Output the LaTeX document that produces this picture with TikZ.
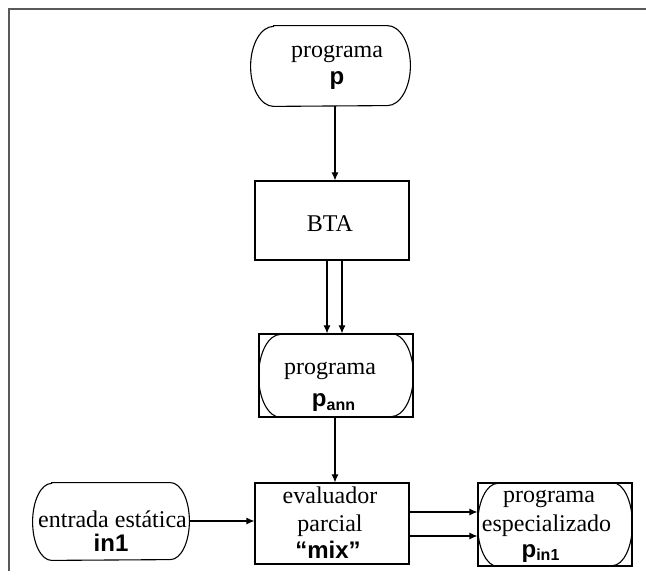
\documentclass[tikz,border=0pt]{standalone}
\usepackage{fontspec}
\setmainfont{Liberation Serif}
\setsansfont{Liberation Sans}
\usetikzlibrary{arrows.meta}
% terminator outline: node name, end bulge, half height
\newcommand\termoutline[3]{%
  \draw[lw] ([xshift=#2]#1.north west) -- ([xshift=-#2]#1.north east)
    arc[start angle=90, end angle=-90, x radius=#2, y radius=#3]
    -- ([xshift=#2]#1.south west)
    arc[start angle=270, end angle=90, x radius=#2, y radius=#3] -- cycle;}
\begin{document}
\begin{tikzpicture}[x=0.5pt,y=-0.5pt,
  lw/.style={line width=0.55pt},
  term/.style={rectangle, inner sep=0pt},
  boxx/.style={draw, lw, rectangle, inner sep=0pt},
  txt/.style={anchor=base, inner sep=0pt, font=\fontsize{12}{14}\selectfont},
  bsf/.style={anchor=base, inner sep=0pt, font=\fontsize{12}{14}\selectfont\sffamily\bfseries},
  arr/.style={lw, -{Latex[length=4pt,width=3.5pt]}},
  frame/.style={line width=0.9pt, black!65}]
\useasboundingbox (0,0) rectangle (646,581);
\draw[frame] (646,9) -- (9,9) -- (9,571);

% shapes
\node[term, minimum width=79.5pt, minimum height=40pt] (p) at (330.5,66) {};
\node[boxx, minimum width=77pt, minimum height=39.5pt] (bta) at (332,220.5) {};
\node[boxx, minimum width=77pt, minimum height=41.5pt] (pannbox) at (336,375.5) {};
\node[term, minimum width=77pt, minimum height=41.5pt] (pann) at (336,375.5) {};
\node[boxx, minimum width=77pt, minimum height=40.5pt] (mix) at (332,523.5) {};
\node[term, minimum width=78pt, minimum height=38.5pt] (ent) at (111,521.5) {};
\node[boxx, minimum width=77pt, minimum height=41.5pt] (espbox) at (555,524.5) {};
\node[term, minimum width=77pt, minimum height=41.5pt] (esp) at (555,524.5) {};
\termoutline{p}{11.5pt}{20pt}
\termoutline{pann}{11pt}{20.75pt}
\termoutline{ent}{9.5pt}{19.25pt}
\termoutline{esp}{10pt}{20.75pt}

% texts
\node[txt] (t1) at (337,58) {programa};
\node[bsf] (t2) at (337,85) {p};
\node[txt] (t3) at (330,232) {BTA};
\node[txt] (t4) at (330,375) {programa};
\node[bsf] (t5) at (334,407) {p\textsubscript{ann}};
\node[txt] (t6) at (330,503) {evaluador};
\node[txt] (t7) at (330,531) {parcial};
\node[bsf] (t8) at (328,558) {“mix”};
\node[txt] (t9) at (112.5,527) {entrada estática};
\node[bsf] (t10) at (111,551) {in1};
\node[txt] (t11) at (549,502) {programa};
\node[txt] (t12) at (546.5,531) {especializado};
\node[bsf] (t13) at (541,557) {p\textsubscript{in1}};

% helper coordinates
\coordinate (xa) at (335,0);
\coordinate (xb) at (327,0);
\coordinate (xc) at (342,0);
\coordinate (ya) at (0,521);
\coordinate (yb) at (0,512);
\coordinate (yc) at (0,536);

% connectors
\draw[arr] (p.south -| xa) -- (bta.north -| xa);
\draw[arr] (bta.south -| xb) -- (pannbox.north -| xb);
\draw[arr] (bta.south -| xc) -- (pannbox.north -| xc);
\draw[arr] (pannbox.south -| xa) -- (mix.north -| xa);
\draw[arr] (ent.east |- ya) -- (mix.west |- ya);
\draw[arr] (mix.east |- yb) -- (espbox.west |- yb);
\draw[arr] (mix.east |- yc) -- (espbox.west |- yc);
\end{tikzpicture}
\end{document}
